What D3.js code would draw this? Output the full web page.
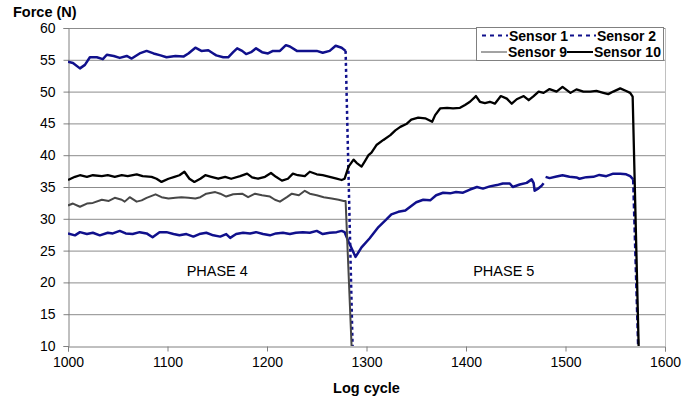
<!DOCTYPE html>
<html>
<head>
<meta charset="utf-8">
<script src="https://cdn.jsdelivr.net/npm/d3@7"></script>
<style>
  body { margin: 0; background: #fff; }
  text { font-family: "Liberation Sans", Arial, sans-serif; fill: #000; }
</style>
</head>
<body>
<div id="chart"></div>
<script>
// Sensor 1: lower blue trace, runs through both phases (null = gap in the record)
const s1Cycle = [1000,1007,1012,1019,1025,1032,1040,1045,1052,1058,1065,1072,1079,1085,1092,1099,1106,1112,1119,1126,1132,1139,1146,1153,1159,1163,1169,1176,1183,1189,1196,1203,1209,1216,1223,1229,1236,1243,1250,1256,1263,1270,1275,1278,
  1282,1289,1295,1303,1312,1320,1325,1332,1339,1344,1350,1357,1364,1370,1377,1384,1390,1397,1404,1411,1417,1424,1431,1437,1444,1447,1454,1461,1466,1468,1469,1472,1476,1478,1479,
  1480,1484,1491,1497,1504,1511,1514,1521,1528,1534,1541,1548,1555,1561,1565,1568,1573];
const s1Force = [27.7,27.4,27.9,27.6,27.8,27.4,27.8,27.7,28.1,27.7,27.6,27.9,27.7,27.1,27.9,27.9,27.6,27.4,27.6,27.2,27.6,27.8,27.4,27.2,27.6,27.0,27.6,27.8,27.7,27.9,27.6,27.4,27.7,27.8,27.6,27.8,27.9,27.8,28.1,27.6,27.8,27.9,28.1,27.9,
  26.4,24.0,25.5,26.9,28.7,29.9,30.7,31.1,31.3,31.9,32.6,33.0,32.9,33.7,34.1,34.0,34.2,34.1,34.6,35.0,34.75,35.1,35.3,35.55,35.55,35.0,35.4,35.65,36.2,35.6,34.4,34.7,35.2,35.6,null,
  36.6,36.4,36.65,36.85,36.6,36.5,36.3,36.55,36.6,36.9,36.7,37.1,37.1,37.0,36.7,36.2,10];

// Sensor 2: upper blue trace, phase 4 only
const s2Cycle = [1000,1005,1012,1017,1022,1029,1035,1039,1046,1052,1059,1064,1072,1079,1086,1093,1099,1108,1116,1121,1128,1134,1141,1146,1149,1156,1161,1166,1170,1175,1179,1184,1189,1195,1201,1206,1213,1219,1223,1230,1236,1243,1250,1256,1263,1269,1275,1279,1286];
const s2Force = [54.7,54.5,53.65,54.2,55.4,55.4,55.1,55.8,55.6,55.3,55.6,55.2,56.0,56.4,56.0,55.7,55.4,55.6,55.5,56.0,56.9,56.4,56.5,56.0,55.7,55.4,55.4,56.2,56.8,56.4,55.9,56.2,56.8,56.2,56.0,56.4,56.4,57.3,57.1,56.4,56.4,56.4,56.4,56.1,56.4,57.2,56.9,56.4,10];

// Sensor 9: grey trace, phase 4 only
const s9Cycle = [1000,1005,1012,1019,1025,1034,1041,1047,1054,1057,1062,1069,1074,1079,1088,1094,1101,1108,1114,1121,1128,1133,1139,1148,1153,1159,1166,1175,1181,1188,1195,1203,1208,1213,1220,1225,1232,1238,1243,1250,1257,1265,1272,1277,1279,1285];
const s9Force = [32.1,32.4,31.9,32.4,32.5,33.0,32.8,33.3,33.0,32.7,33.4,32.7,32.9,33.3,33.85,33.4,33.2,33.3,33.4,33.3,33.2,33.4,33.95,34.2,33.95,33.5,33.85,33.95,33.4,33.95,33.7,33.5,33.0,32.7,33.4,33.95,33.7,34.4,33.95,33.7,33.4,33.2,33.0,32.8,32.8,10];

// Sensor 10: black trace, both phases
const s10Cycle = [1000,1007,1012,1019,1025,1034,1040,1047,1054,1060,1069,1075,1084,1089,1094,1101,1107,1112,1117,1122,1127,1133,1138,1144,1151,1158,1164,1173,1180,1185,1191,1198,1204,1209,1215,1221,1226,1231,1238,1243,1250,1256,1263,1270,1275,1278,
  1282,1287,1290,1295,1298,1302,1305,1310,1317,1324,1329,1334,1340,1345,1352,1359,1366,1369,1374,1381,1387,1394,1399,1404,1410,1414,1419,1424,1429,1435,1441,1446,1451,1458,1463,1468,1473,1478,
  1484,1491,1497,1505,1511,1518,1525,1531,1538,1543,1548,1555,1561,1565,1567.5,1573.5];
const s10Force = [36.1,36.6,36.85,36.6,36.85,36.7,36.85,36.6,36.85,36.7,37.0,36.7,36.6,36.3,35.8,36.3,36.6,36.85,37.4,36.3,35.8,36.3,36.85,36.6,36.3,36.6,36.3,36.7,37.1,36.5,36.3,36.6,37.2,36.6,36.0,36.3,37.1,36.85,36.7,37.4,37.0,36.85,36.6,36.3,36.1,36.3,
  38.2,39.3,38.8,38.2,38.95,40.0,40.4,41.6,42.4,43.15,43.9,44.45,44.9,45.6,45.9,45.8,45.25,46.3,47.35,47.45,47.35,47.45,47.9,48.4,49.3,48.4,48.2,48.4,48.1,49.3,48.9,48.1,48.8,49.3,48.65,49.3,50.0,49.8,
  50.4,50.0,50.75,49.8,50.35,50.0,50.0,50.1,49.8,49.6,50.0,50.5,50.1,49.8,49.2,10];

const xTicks = [1000, 1100, 1200, 1300, 1400, 1500, 1600];
const yTicks = [10, 15, 20, 25, 30, 35, 40, 45, 50, 55, 60];
const phaseNames = ['PHASE 4', 'PHASE 5'];
const phaseCycle = [1150, 1438];
const phaseForce = [21.8, 21.8];

const width = 700;
const height = 405;
const margin = { top: 28, right: 35, bottom: 59, left: 68 };
const blue = '#10108c';

const x = d3.scaleLinear().domain([1000, 1600]).range([margin.left, width - margin.right]);
const y = d3.scaleLinear().domain([10, 60]).range([height - margin.bottom, margin.top]);

const svg = d3
  .select('#chart')
  .append('svg')
  .attr('width', width)
  .attr('height', height);

svg.append('defs').append('clipPath').attr('id', 'plot-clip')
  .append('rect')
  .attr('x', margin.left)
  .attr('y', margin.top - 2)
  .attr('width', width - margin.left - margin.right)
  .attr('height', height - margin.top - margin.bottom + 2);

// gridlines
svg.append('g')
  .selectAll('line')
  .data(yTicks.slice(1))
  .enter()
  .append('line')
  .attr('x1', margin.left)
  .attr('x2', width - margin.right)
  .attr('y1', d => y(d) + 0.5)
  .attr('y2', d => y(d) + 0.5)
  .attr('stroke', '#8c8c8c')
  .attr('stroke-width', 1);

// right border of plot area
svg.append('line')
  .attr('x1', width - margin.right + 0.5)
  .attr('x2', width - margin.right + 0.5)
  .attr('y1', margin.top)
  .attr('y2', height - margin.bottom)
  .attr('stroke', '#c0c0c0');

// axes
const xAxis = svg.append('g')
  .attr('transform', `translate(0,${height - margin.bottom + 0.5})`)
  .call(d3.axisBottom(x).tickValues(xTicks).tickFormat(d3.format('d')).tickSizeOuter(0).tickSize(5).tickPadding(6));
const yAxis = svg.append('g')
  .attr('transform', `translate(${margin.left + 0.5},0)`)
  .call(d3.axisLeft(y).tickValues(yTicks).tickSizeOuter(0).tickSize(5).tickPadding(8));

[xAxis, yAxis].forEach(g => {
  g.select('.domain').attr('stroke', '#808080');
  g.selectAll('.tick line').attr('stroke', '#808080');
  g.selectAll('.tick text')
    .style('font-family', '"Liberation Sans", Arial, sans-serif')
    .style('font-size', '14px')
    .attr('fill', '#000');
});

svg.append('text')
  .attr('x', 13)
  .attr('y', 17)
  .style('font-size', '14.5px')
  .style('font-weight', 'bold')
  .text('Force (N)');

svg.append('text')
  .attr('x', (margin.left + width - margin.right) / 2)
  .attr('y', 393)
  .attr('text-anchor', 'middle')
  .style('font-size', '14.5px')
  .style('font-weight', 'bold')
  .text('Log cycle');

// phase labels
svg.append('g')
  .selectAll('text')
  .data(phaseNames)
  .enter()
  .append('text')
  .attr('x', (d, i) => x(phaseCycle[i]))
  .attr('y', (d, i) => y(phaseForce[i]) + 5)
  .attr('text-anchor', 'middle')
  .style('font-size', '14.5px')
  .text(d => d);

const series = [
  { name: 'Sensor 1', cycle: s1Cycle, force: s1Force, color: blue, width: 2.5, dash: '5,3' },
  { name: 'Sensor 2', cycle: s2Cycle, force: s2Force, color: blue, width: 2.5, dash: '3,3' },
  { name: 'Sensor 9', cycle: s9Cycle, force: s9Force, color: '#474747', width: 2, dash: null },
  { name: 'Sensor 10', cycle: s10Cycle, force: s10Force, color: '#000000', width: 2.3, dash: null },
];

const line = d3.line()
  .defined(d => d[1] !== null)
  .x(d => x(d[0]))
  .y(d => y(d[1]));

const plot = svg.append('g').attr('clip-path', 'url(#plot-clip)');

series.forEach(s => {
  const pts = s.cycle.map((c, i) => [c, s.force[i]]);
  // dense record part is drawn solid; the final drop to the axis shows the dash pattern
  const body = s.dash ? pts.slice(0, -1) : pts;
  plot.append('path')
    .datum(body)
    .attr('fill', 'none')
    .attr('stroke', s.color)
    .attr('stroke-width', s.width)
    .attr('stroke-linejoin', 'round')
    .attr('d', line);
  if (s.dash) {
    plot.append('path')
      .datum(pts.slice(-2))
      .attr('fill', 'none')
      .attr('stroke', s.color)
      .attr('stroke-width', s.width)
      .attr('stroke-dasharray', s.dash)
      .attr('d', line);
  }
});

// legend
const legend = svg.append('g').attr('transform', 'translate(476,27)');
legend.append('rect')
  .attr('x', 0.5)
  .attr('y', 0.5)
  .attr('width', 187)
  .attr('height', 33)
  .attr('fill', '#fff')
  .attr('stroke', '#808080');

const legendPos = [
  { lx: 6, ly: 8.5 },
  { lx: 94, ly: 8.5 },
  { lx: 5, ly: 25 },
  { lx: 91, ly: 25 },
];

series.forEach((s, i) => {
  const p = legendPos[i];
  legend.append('line')
    .attr('x1', p.lx)
    .attr('x2', p.lx + 26)
    .attr('y1', p.ly)
    .attr('y2', p.ly)
    .attr('stroke', s.color)
    .attr('stroke-width', s.name === 'Sensor 9' ? 1 : 2)
    .attr('stroke-dasharray', s.dash ? '4,4' : null);
  legend.append('text')
    .attr('x', p.lx + 27)
    .attr('y', p.ly + 5)
    .style('font-size', '14px')
    .style('font-weight', 'bold')
    .text(s.name);
});
</script>
</body>
</html>
